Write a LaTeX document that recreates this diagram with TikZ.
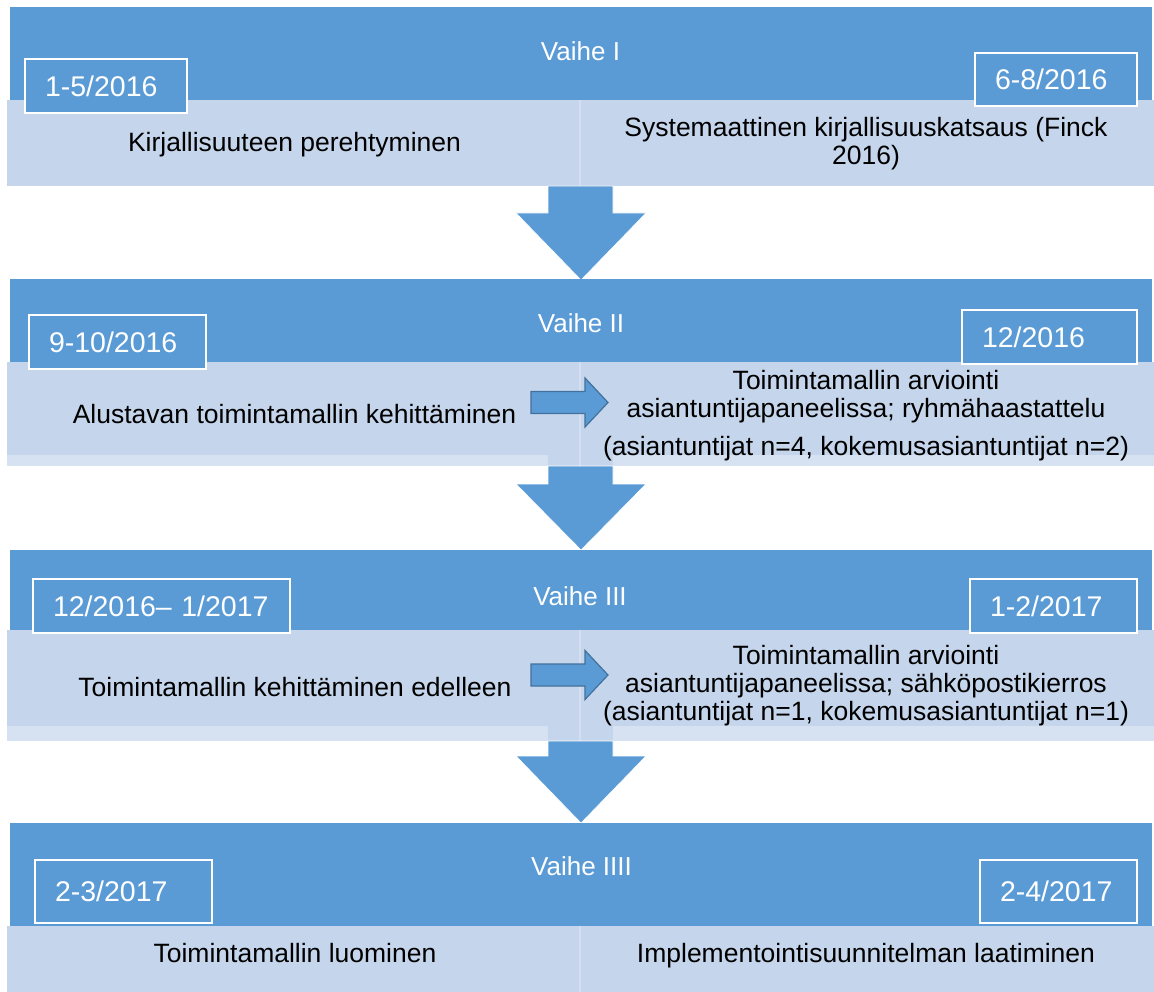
\documentclass[tikz,border=0pt]{standalone}
\usepackage{fontspec}
\setmainfont{Liberation Sans}
\definecolor{barblue}{HTML}{5B9BD5}
\definecolor{panelblue}{HTML}{C5D5EB}
\definecolor{stripblue}{HTML}{D6E1F1}
\definecolor{seamblue}{HTML}{D3DEF0}
\definecolor{edgeblue}{HTML}{41719C}
\newcommand\bodyfont{\fontsize{26.5}{28}\selectfont}
\newcommand\datefont{\fontsize{28.5}{30}\selectfont}
\newcommand\phasefont{\fontsize{26}{28}\selectfont}
% big down arrow between two phases: shaft top, head base, tip
\newcommand\phasearrow[3]{%
  \draw[flow] (548,#1) -- (613,#1) -- (613,#2) -- (646,#2) -- (581,#3)
    -- (516,#2) -- (548,#2) -- cycle;}
% small right arrow inside a panel, centred on a given height
\newcommand\steparrow[1]{%
  \draw[smallarrow] (531,#1-11) -- (585,#1-11) -- (585,#1-24.5) -- (608,#1)
    -- (585,#1+24.5) -- (585,#1+11) -- (531,#1+11) -- cycle;}
\begin{document}
\begin{tikzpicture}[x=1pt,y=-1pt,
  box/.style={inner sep=0pt, outer sep=0pt, anchor=north west},
  bar/.style={box, fill=barblue},
  panel/.style={box, fill=panelblue},
  strip/.style={box, fill=stripblue},
  datebox/.style={draw=white, line width=1.2pt, fill=barblue, text=white,
    font=\datefont, inner xsep=20pt, inner ysep=0pt, outer sep=0pt,
    align=left, anchor=north west},
  phase/.style={text=white, font=\phasefont, anchor=base, inner sep=0pt},
  % multi-line texts are placed by the baseline of their last line
  body/.style={font=\bodyfont, align=center, anchor=base, inner sep=0pt},
  flow/.style={fill=barblue, draw=white, line width=0.6pt},
  smallarrow/.style={fill=barblue, draw=edgeblue, line width=1.2pt},
  seam/.style={draw=seamblue, line width=1.5pt}]
\useasboundingbox (0,0) rectangle (1154,992);

% ---------- Vaihe I ----------
\node[bar, minimum width=1142pt, minimum height=93pt] (bar1) at (10,7) {};
\node[panel, minimum width=1147pt, minimum height=86pt] (panel1) at (7,100) {};
\draw[seam] (580,100) -- (580,186);
\node[phase] (ph1) at (580.5,61) {Vaihe I};
\node[datebox, text width=122pt, minimum height=54pt] (d1a) at (25,59) {1-5/2016};
\node[datebox, text width=122pt, minimum height=53pt] (d1b) at (975,53) {6-8/2016};
\node[body] (t1a) at (294.5,152) {Kirjallisuuteen perehtyminen};
\node[body] (t1b) at (866,165) {Systemaattinen kirjallisuuskatsaus (Finck\\2016)};

\phasearrow{186}{213}{280}

% ---------- Vaihe II ----------
\node[bar, minimum width=1142pt, minimum height=83pt] (bar2) at (10,279) {};
\node[panel, minimum width=1147pt, minimum height=104pt] (panel2) at (7,362) {};
\node[strip, minimum width=541pt, minimum height=11pt] (s2a) at (7,455) {};
\node[strip, minimum width=541pt, minimum height=11pt] (s2b) at (613,455) {};
\draw[seam] (580,362) -- (580,466);
\node[phase] (ph2) at (581,333) {Vaihe II};
\node[datebox, text width=137pt, minimum height=54pt] (d2a) at (29,315) {9-10/2016};
\node[datebox, text width=135pt, minimum height=54pt] (d2b) at (962,310) {12/2016};
\node[body] (t2a) at (294.5,423) {Alustavan toimintamallin kehittäminen};
\node[body] (t2b) at (866,455) {Toimintamallin arviointi\\asiantuntijapaneelissa; ryhmähaastattelu\\[10pt](asiantuntijat n=4, kokemusasiantuntijat n=2)};
\steparrow{402.5}

\phasearrow{466}{484}{550}

% ---------- Vaihe III ----------
\node[bar, minimum width=1142pt, minimum height=80pt] (bar3) at (10,550) {};
\node[panel, minimum width=1147pt, minimum height=111pt] (panel3) at (7,630) {};
\node[strip, minimum width=541pt, minimum height=15pt] (s3a) at (7,726) {};
\node[strip, minimum width=541pt, minimum height=15pt] (s3b) at (613,726) {};
\draw[seam] (580,630) -- (580,741);
\node[phase] (ph3) at (580,605) {Vaihe III};
\node[datebox, text width=217pt, minimum height=54pt] (d3a) at (33,579) {12/2016– 1/2017};
\node[datebox, text width=127pt, minimum height=54pt] (d3b) at (970,579) {1-2/2017};
\node[body] (t3a) at (295,696) {Toimintamallin kehittäminen edelleen};
\node[body] (t3b) at (866,720) {Toimintamallin arviointi\\asiantuntijapaneelissa; sähköpostikierros\\(asiantuntijat n=1, kokemusasiantuntijat n=1)};
\steparrow{675}

\phasearrow{741}{756}{823}

% ---------- Vaihe IIII ----------
\node[bar, minimum width=1142pt, minimum height=103pt] (bar4) at (10,823) {};
\node[panel, minimum width=1147pt, minimum height=66pt] (panel4) at (7,926) {};
\draw[seam] (580,926) -- (580,992);
\node[phase] (ph4) at (581.5,875) {Vaihe IIII};
\node[datebox, text width=137pt, minimum height=63pt] (d4a) at (35,860) {2-3/2017};
\node[datebox, text width=117pt, minimum height=63pt] (d4b) at (980,860) {2-4/2017};
\node[body] (t4a) at (295,962) {Toimintamallin luominen};
\node[body] (t4b) at (866,962) {Implementointisuunnitelman laatiminen};
\end{tikzpicture}
\end{document}
